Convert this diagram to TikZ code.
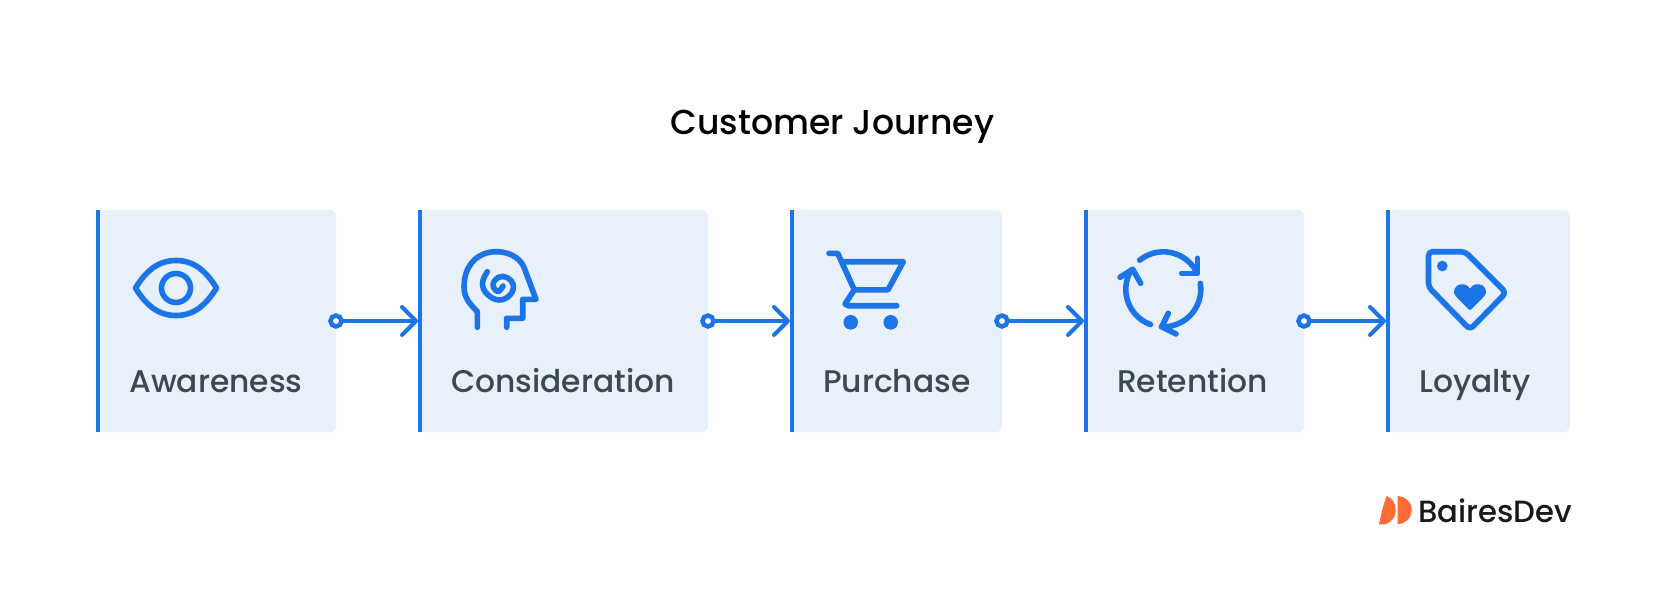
\documentclass[tikz,border=0pt]{standalone}
\usepackage{fontspec}
\setmainfont{Poppins}
\newfontfamily\stagefont{Poppins Medium}
\usetikzlibrary{arrows.meta}
\definecolor{boxblue}{HTML}{E8F0FC}
\definecolor{lineblue}{HTML}{1B74E8}
\definecolor{labelgrey}{HTML}{3D4852}
\definecolor{logoorange}{HTML}{FF6A39}
\tikzset{
  stagebox/.style={fill=boxblue,rounded corners=6pt,inner sep=0pt,outer sep=0pt,minimum height=222pt},
  stagebar/.style={lineblue,line width=4pt},
  stagelabel/.style={anchor=base west,inner sep=0pt,text=labelgrey,font=\stagefont\fontsize{31.3pt}{31.3pt}\selectfont},
  port/.style={circle,draw=lineblue,fill=white,line width=4.5pt,minimum size=11pt,inner sep=0pt,outer sep=0pt},
  link/.style={lineblue,line width=4pt,-{Straight Barb[length=14pt,width=28pt,round]}},
  icon/.style={lineblue,line width=5.6pt,line cap=round,line join=round},
}
\begin{document}
\begin{tikzpicture}[x=1pt,y=1pt,yscale=-1]
\useasboundingbox (0,0) rectangle (1668,589);

\node[anchor=base west,inner sep=0pt,font=\stagefont\fontsize{34.6pt}{34.6pt}\selectfont] (title) at (670.5,134.5) {Customer Journey};

% stages
\node[stagebox,minimum width=240pt] (awareness) at (216,321) {};
\node[stagebox,minimum width=290pt] (consideration) at (563,321) {};
\node[stagebox,minimum width=212pt] (purchase) at (896,321) {};
\node[stagebox,minimum width=220pt] (retention) at (1194,321) {};
\node[stagebox,minimum width=184pt] (loyalty) at (1478,321) {};

\foreach \s in {awareness,consideration,purchase,retention,loyalty}{
  \fill[boxblue] (\s.north west) rectangle ([xshift=10pt]\s.south west);
  \draw[stagebar] ([xshift=2pt]\s.north west)--([xshift=2pt]\s.south west);
}

\node[stagelabel] (l1) at (129,392) {Awareness};
\node[stagelabel] (l2) at (451,392) {Consideration};
\node[stagelabel] (l3) at (823,392) {Purchase};
\node[stagelabel] (l4) at (1117,392) {Retention};
\node[stagelabel] (l5) at (1419,392) {Loyalty};

% connectors
\draw[link] (awareness.east)--(consideration.west);
\draw[link] (consideration.east)--(purchase.west);
\draw[link] (purchase.east)--(retention.west);
\draw[link] (retention.east)--(loyalty.west);

\node[port] (p1) at (awareness.east) {};
\node[port] (p2) at (consideration.east) {};
\node[port] (p3) at (purchase.east) {};
\node[port] (p4) at (retention.east) {};

% eye
\draw[icon] (135.5,288) .. controls (146,271) and (158,260.5) .. (176,260.5) .. controls (194,260.5) and (206,271) .. (216.5,288) .. controls (206,305) and (194,315.5) .. (176,315.5) .. controls (158,315.5) and (146,305) .. cycle;
\draw[icon] (176,288) circle (14.5);

% head
\draw[icon] (477.3,327.3)--(477.3,311.7) .. controls (470,304) and (464,298) .. (464,286.7) .. controls (464,265) and (478,251.7) .. (496,251.7) .. controls (512,251.7) and (522,260) .. (525,270)--(536,299.3)--(522.7,299.3)--(522.7,318.3)--(506.7,318.3)--(506.7,327.3);
\draw[icon] plot[smooth,tension=0.7] coordinates {(487.3,271.7) (482.5,283) (487,294) (499,300) (510,295) (513.3,285) (507,277.5) (498,277.5) (493,285) (498,291.5) (503,286)};

% cart
\draw[icon] (829,253.3)--(837.7,253.3)--(854.3,289.8)--(845,304)--(848,305.7)--(896.7,305.7);
\draw[icon] (843.3,261.7)--(903.3,261.7)--(888,289.8)--(854.3,289.8);
\fill[lineblue] (850.7,322.3) circle (7.3);
\fill[lineblue] (890.7,322.3) circle (7.3);

% arrows round
\draw[icon] (1163.3,289.3) ++(-129:37.5) arc[start angle=-129,end angle=-26,radius=37.5];
\draw[icon] (1197.3,258.3)--(1197.3,273.3)--(1181.7,273.3);
\draw[icon] (1163.3,289.3) ++(-9:37.5) arc[start angle=-9,end angle=93,radius=37.5];
\draw[icon] (1168.3,313.3)--(1161.7,326.7)--(1176,334);
\draw[icon] (1163.3,289.3) ++(110:37.5) arc[start angle=110,end angle=211,radius=37.5];
\draw[icon] (1120,277.3)--(1132.7,269.3)--(1140.7,283.3);

% tag
\draw[icon,rounded corners=4pt] (1428.5,251.7)--(1465,251.7)--(1506,292.7)--(1470,329.5)--(1428.5,287)--cycle;
\fill[lineblue] (1442.3,266) circle (5.3);
\fill[lineblue,rounded corners=1.5pt] (1470,310.7)--(1457,297.5) .. controls (1451,291) and (1456,284.3) .. (1462.5,284.3) .. controls (1466,284.3) and (1469,286.5) .. (1470,289.5) .. controls (1471,286.5) and (1474,284.3) .. (1477.5,284.3) .. controls (1484,284.3) and (1489,291) .. (1483,297.5)--cycle;

% logo
\fill[logoorange] (1386.7,496) .. controls (1383,505) and (1381,515) .. (1379,524.3)--(1385,524.3) .. controls (1392,522) and (1395.7,517) .. (1395.7,510) .. controls (1395.7,503) and (1392,498) .. (1386.7,496)--cycle;
\fill[logoorange] (1397.7,496) .. controls (1405,496) and (1411.7,502) .. (1411.7,510) .. controls (1411.7,518) and (1405,524.3) .. (1397.7,524.3)--cycle;
\node[anchor=base west,inner sep=0pt,text=black!90,font=\stagefont\fontsize{30.7pt}{30.7pt}\selectfont] (brand) at (1418,522.7) {BairesDev};
\end{tikzpicture}
\end{document}
